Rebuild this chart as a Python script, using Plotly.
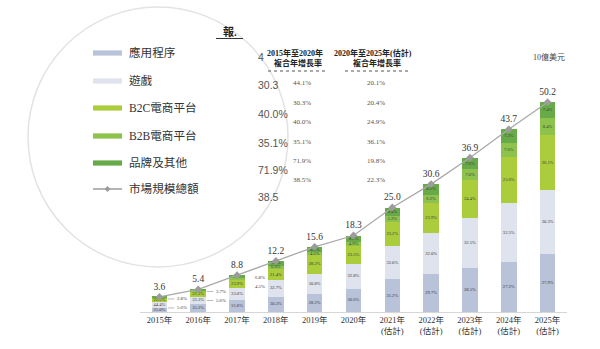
import plotly.graph_objects as go

# ---------------- data ----------------
years = ["2015年", "2016年", "2017年", "2018年", "2019年", "2020年",
         "2021年<br>(估計)", "2022年<br>(估計)", "2023年<br>(估計)",
         "2024年<br>(估計)", "2025年<br>(估計)"]
totals = [3.6, 5.4, 8.8, 12.2, 15.6, 18.3, 25.0, 30.6, 36.9, 43.7, 50.2]
app_pct = [25.0, 35.2, 31.8, 30.3, 28.2, 30.6, 31.2, 29.7, 28.5, 27.2, 27.9]
game_pct = [44.4, 33.3, 33.0, 32.7, 30.8, 32.8, 32.0, 32.0, 32.5, 32.5, 30.3]
b2c_pct = [22.2, 22.2, 23.9, 21.4, 28.2, 23.5, 23.2, 23.9, 24.4, 25.6, 26.1]
b2b_pct = [5.6, 5.6, 4.5, 6.6, 4.5, 4.9, 5.2, 6.2, 7.0, 7.6, 8.4]
brand_pct = [2.8, 3.7, 6.8, 9.0, 8.3, 8.2, 8.4, 8.2, 7.6, 7.3, 7.4]

series_names = ["應用程序", "遊戲", "B2C電商平台", "B2B電商平台", "品牌及其他"]
total_name = "市場規模總額"
cagr_15_20 = ["44.1%", "30.3%", "40.0%", "35.1%", "71.9%", "38.5%"]
cagr_20_25 = ["20.1%", "20.4%", "24.9%", "36.1%", "19.8%", "22.3%"]
cagr_head_1 = ["2015年至2020年", "複合年增長率"]
cagr_head_2 = ["2020年至2025年(估計)", "複合年增長率"]
magnified_cagr = ["4", "30.3", "40.0%", "35.1%", "71.9%", "38.5"]
unit_label = "10億美元"
title_fragment = "報."

# ---------------- styles ----------------
colors = ["#b8c2d9", "#dfe3ed", "#abcd3c", "#8dc34d", "#68aa48"]
SERIF = "Liberation Serif, Noto Sans CJK TC, serif"
SANS = "Liberation Sans, Arial, sans-serif"
PX_PER_UNIT = 4.18
L, RGT, T, B = 140, 567, 10, 312
W, H = RGT - L, B - T


def X(px):
    return (px - L) / W


def Y(py):
    return (B - py) / H


def label(px, py, text, size, color, family, xanchor="center"):
    return dict(x=X(px), y=Y(py), xref="paper", yref="paper", xanchor=xanchor,
                yanchor="middle", text=text, showarrow=False,
                font=dict(size=size, color=color, family=family))


pcts = [app_pct, game_pct, b2c_pct, b2b_pct, brand_pct]
n = len(years)
sums = [sum(p[i] for p in pcts) for i in range(n)]
values = [[totals[i] * p[i] / sums[i] for i in range(n)] for p in pcts]

fig = go.Figure()
for s, name in enumerate(series_names):
    fig.add_trace(go.Bar(
        x=years, y=values[s], name=name, marker=dict(color=colors[s], line=dict(width=0)),
        width=0.4, hoverinfo="skip"))

# in-bar percentage labels
tx, ty, tt = [], [], []
for i in range(n):
    base = 0.0
    for s in range(5):
        v = values[s][i]
        if not (i < 3 and s >= 3):
            tx.append(years[i])
            ty.append(base + v / 2)
            tt.append(f"{pcts[s][i]:.1f}%")
        base += v
fig.add_trace(go.Scatter(x=tx, y=ty, text=tt, mode="text",
                         textfont=dict(size=4.6, color="#3a3a3a", family=SERIF),
                         hoverinfo="skip", cliponaxis=False))

# total line
fig.add_trace(go.Scatter(
    x=years, y=totals, name=total_name, mode="lines+markers+text",
    text=[f"{t:.1f}" for t in totals], textposition="top center",
    textfont=dict(size=9.5, color="#333333", family=SERIF),
    line=dict(color="#a9a9a9", width=1.3),
    marker=dict(symbol="diamond", size=6, color="#9c9c9c"),
    cliponaxis=False, hoverinfo="skip"))

annotations = []
shapes = []

# side labels for small early segments (B2B lower, brand upper)
for i in range(3):
    for s, shift in ((4, -2), (3, -11)):
        annotations.append(dict(
            x=years[i], y=totals[i], xref="x", yref="y", xanchor="left", yanchor="middle",
            xshift=16, yshift=shift, text=f"{pcts[s][i]:.1f}%", showarrow=False,
            font=dict(size=4.8, color="#3a3a3a", family=SERIF)))
        if i < 2:
            shapes.append(dict(
                type="line", xref="x", yref="y", xsizemode="pixel", ysizemode="pixel",
                xanchor=years[i], yanchor=totals[i], x0=8.5, x1=15, y0=shift, y1=shift,
                line=dict(color="#9a9a9a", width=0.7)))

# magnifier circle
shapes.append(dict(type="circle", xref="paper", yref="paper",
                   x0=X(28), x1=X(288), y0=Y(267), y1=Y(7),
                   line=dict(color="#e3e3e3", width=1.5)))

# legend inside the circle
leg_y = [53, 81, 108, 136, 163, 189]
for k, name in enumerate(series_names):
    yc = leg_y[k]
    shapes.append(dict(type="rect", xref="paper", yref="paper",
                       x0=X(93), x1=X(122), y0=Y(yc + 2.6), y1=Y(yc - 2.6),
                       fillcolor=colors[k], line=dict(width=0)))
for k, name in enumerate(series_names + [total_name]):
    annotations.append(label(127, leg_y[k], name, 11.6, "#333333", SERIF, "left"))
yl = leg_y[5]
shapes.append(dict(type="line", xref="paper", yref="paper", x0=X(93), x1=X(122),
                   y0=Y(yl), y1=Y(yl), line=dict(color="#9c9c9c", width=1.5)))
shapes.append(dict(type="path", xref="paper", yref="paper",
                   path=f"M {X(107.5)},{Y(yl - 3)} L {X(110.5)},{Y(yl)} L {X(107.5)},{Y(yl + 3)} L {X(104.5)},{Y(yl)} Z",
                   fillcolor="#9c9c9c", line=dict(width=0)))

# magnified CAGR numbers (clipped by the circle)
mag_y = [57, 85, 114, 143, 170, 197]
for k, t in enumerate(magnified_cagr):
    annotations.append(label(256, mag_y[k], t, 10.5, "#555555", SANS, "left"))

# title fragment
annotations.append(label(230, 31, f"<b>{title_fragment}</b>", 11, "#222222", SERIF))
shapes.append(dict(type="line", xref="paper", yref="paper", x0=X(216), x1=X(243),
                   y0=Y(38.5), y1=Y(38.5), line=dict(color="#333333", width=1)))

# CAGR column headers
for (line1, line2), cx1, cx2, ux0, ux1 in ((cagr_head_1, 294.5, 297.5, 268, 327),
                                          (cagr_head_2, 372.5, 377, 345, 410)):
    annotations.append(label(cx1, 53, f"<b>{line1}</b>", 8, "#222222", SERIF))
    annotations.append(label(cx2, 63.5, f"<b>{line2}</b>", 8, "#222222", SERIF))
    shapes.append(dict(type="line", xref="paper", yref="paper", x0=X(ux0), x1=X(ux1),
                       y0=Y(71), y1=Y(71), line=dict(color="#555555", width=1, dash="dot")))

col_y = [83, 103, 122, 142, 161, 180]
for k in range(6):
    annotations.append(label(302, col_y[k], cagr_15_20[k], 7, "#555555", SERIF))
    annotations.append(label(376, col_y[k], cagr_20_25[k], 7, "#555555", SERIF))

annotations.append(label(549, 57, unit_label, 8, "#444444", SERIF))

fig.update_layout(
    width=600, height=349, margin=dict(l=L, r=600 - RGT, t=T, b=349 - B),
    paper_bgcolor="white", plot_bgcolor="white", barmode="stack", showlegend=False,
    annotations=annotations, shapes=shapes,
    xaxis=dict(type="category", range=[-0.5, n - 0.5], showline=True, linecolor="#d6d6d6",
               linewidth=1, ticks="", showgrid=False, zeroline=False, fixedrange=True,
               tickfont=dict(size=8.5, color="#333333", family=SERIF)),
    yaxis=dict(visible=False, range=[0, H / PX_PER_UNIT], fixedrange=True),
)

fig.write_html("out.html")
